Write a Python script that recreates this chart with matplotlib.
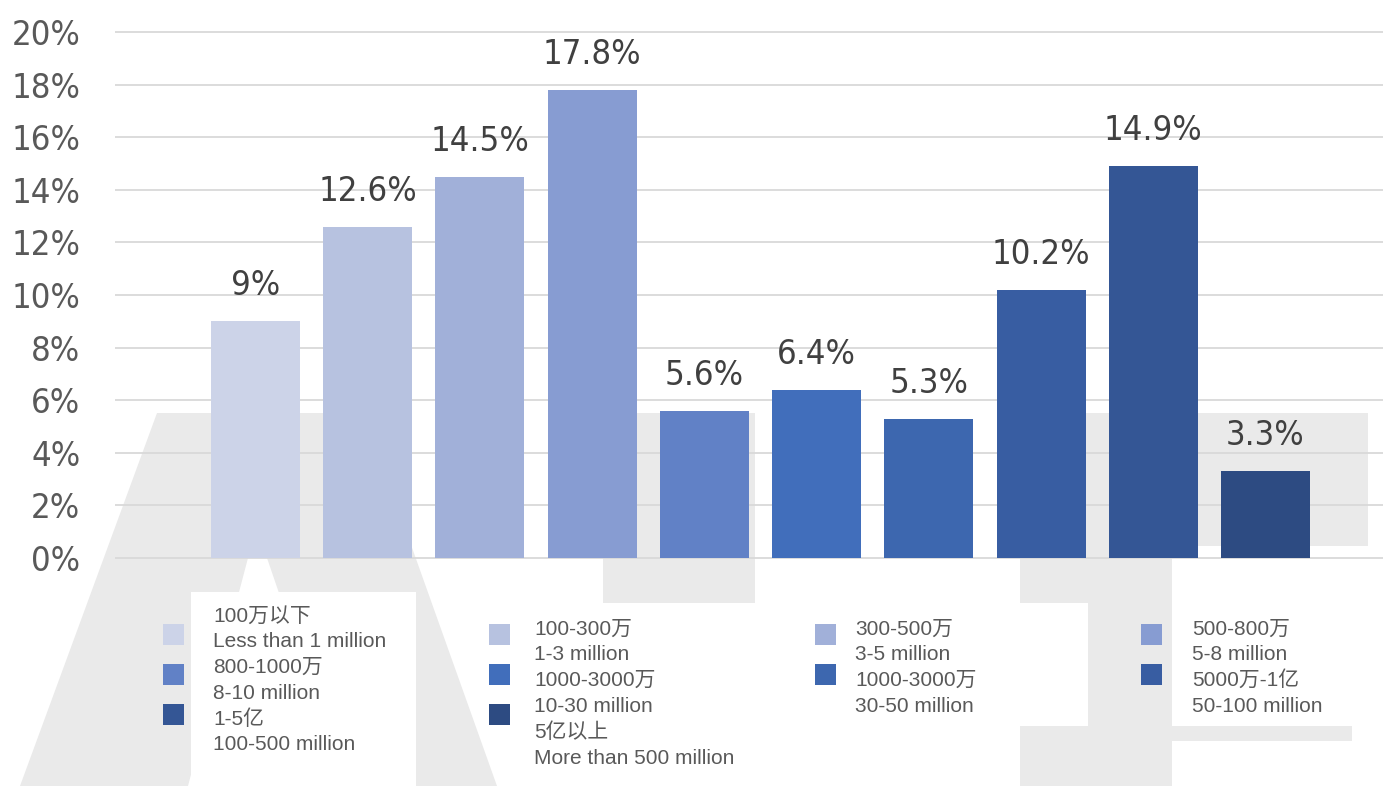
import matplotlib
matplotlib.use("Agg")
import matplotlib.pyplot as plt
import numpy as np
from matplotlib import font_manager
from matplotlib.font_manager import FontProperties
from matplotlib.patches import Polygon, Rectangle
from matplotlib.textpath import TextPath

# Share of respondents by wealth bracket
labels_cn = ["100万以下", "100-300万", "300-500万", "500-800万", "800-1000万",
             "1000-3000万", "1000-3000万", "5000万-1亿", "1-5亿", "5亿以上"]
labels_en = ["Less than 1 million", "1-3 million", "3-5 million", "5-8 million",
             "8-10 million", "10-30 million", "30-50 million", "50-100 million",
             "100-500 million", "More than 500 million"]
shares = [9, 12.6, 14.5, 17.8, 5.6, 6.4, 5.3, 10.2, 14.9, 3.3]
colors = ["#CCD3E8", "#B7C2E0", "#A1B0D9", "#879CD2", "#6181C6",
          "#416EBB", "#3D67AF", "#385DA2", "#345695", "#2D4B82"]
y_ticks = list(range(0, 21, 2))

W, H = 1383, 786
legend_font = ["Liberation Sans", "Noto Sans CJK SC", "DejaVu Sans"]


def pick_narrow_font():
    # look for a condensed sans face; fall back to Liberation Sans
    best = None
    for f in font_manager.fontManager.ttflist:
        if f.style != "normal" or f.weight not in (400, "normal", "regular", "book"):
            continue
        tag = f"{f.name} {f.stretch}".lower()
        if "mono" in tag or "serif" in tag and "sans" not in tag:
            continue
        if f.stretch in ("condensed", "semi-condensed") or "narrow" in tag or "condensed" in tag:
            rank = 0 if ("narrow" in tag or f.stretch == "condensed") else 1
            if best is None or rank < best[0]:
                best = (rank, f.fname)
    if best:
        return FontProperties(fname=best[1])
    return FontProperties(family="Liberation Sans")


num_font = pick_narrow_font()
# size the numbers so "20%" spans about 65 px
probe = TextPath((0, 0), "20%", prop=num_font.copy(), size=100)
num_size = min(29.0, 100 * (65 * 0.72) / probe.get_extents().width)

fig = plt.figure(figsize=(W / 100, H / 100), dpi=100)
fig.patch.set_facecolor("white")


def px(x, y):
    # pixel position (top-left origin) -> figure fraction
    return (x / W, 1 - y / H)


def px_rect(x0, y0, x1, y1, color, z):
    fx, fy = px(x0, y1)
    return Rectangle((fx, fy), (x1 - x0) / W, (y1 - y0) / H, transform=fig.transFigure,
                     facecolor=color, edgecolor="none", zorder=z)


# faint logo in the background
wm = "#EAEAEA"
a_shape = [(157, 413), (364, 413), (497, 786), (345, 786), (267, 558),
           (248, 558), (188, 786), (20, 786)]
fig.add_artist(Polygon([px(*p) for p in a_shape], closed=True, transform=fig.transFigure,
                       facecolor=wm, edgecolor="none", zorder=-3))
for r in [(603, 413, 755, 603), (1087, 413, 1368, 546),
          (1020, 413, 1172, 786), (1172, 726, 1352, 741)]:
    fig.add_artist(px_rect(*r, wm, -3))

# white panels behind the legend text
for r in [(191, 592, 416, 786), (770, 603, 1088, 726), (1172, 603, 1383, 726)]:
    fig.add_artist(px_rect(*r, "white", -2))

ax = fig.add_axes([115 / W, 1 - 558 / H, (W - 115) / W, (558 - 32) / H])
ax.set_facecolor("none")
ax.set_zorder(1)

x = np.arange(len(shares))
ax.bar(x, shares, width=0.793, color=colors, zorder=2)
ax.hlines(y_ticks, -1.252, 10.047, colors="#D9D9D9", lw=1.3, zorder=1, clip_on=False)

label_prop = num_font.copy()
label_prop.set_size(num_size)
for xi, v in zip(x, shares):
    ax.annotate(f"{v:g}%", (xi, v), xytext=(0, 18.7), textcoords="offset points",
                ha="center", va="baseline", color="#404040",
                fontproperties=label_prop)

ax.set_xlim(-1.252, 10.047)
ax.set_ylim(0, 20)
ax.set_xticks([])
ax.set_yticks(y_ticks)
ax.set_yticklabels([f"{t}%" for t in y_ticks], fontproperties=label_prop, color="#595959")
ax.tick_params(axis="y", length=0, pad=25)
for s in ax.spines.values():
    s.set_visible(False)

# legend laid out in four columns, filled row by row
marker_x = [163, 489, 815, 1141]
text_x = [213, 534, 855, 1192]
marker_top = [624, 664, 704]
first_line = [614, 627, 627, 627]
line_step = 25.8
for i, (cn, en) in enumerate(zip(labels_cn, labels_en)):
    row, col = divmod(i, 4)
    fig.add_artist(px_rect(marker_x[col], marker_top[row], marker_x[col] + 21,
                           marker_top[row] + 21, colors[i], 2))
    for j, line in enumerate([cn, en]):
        yc = first_line[col] + (2 * row + j) * line_step
        fig.text(*px(text_x[col], yc + 7.5), line, ha="left", va="baseline",
                 fontsize=15, color="#595959", family=legend_font, zorder=3)

fig.savefig("out.png", dpi=100)
